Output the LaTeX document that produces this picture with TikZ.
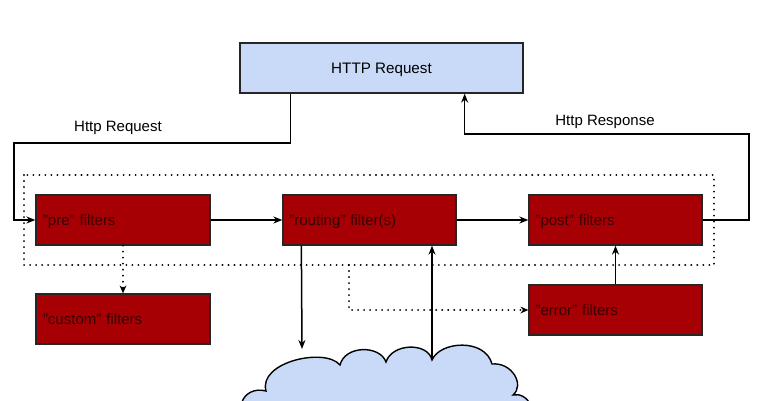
\documentclass[tikz,border=0pt]{standalone}
\usepackage{fontspec}
\setmainfont{Liberation Sans}
\usetikzlibrary{arrows.meta,calc}
\definecolor{boxred}{HTML}{A60004}
\definecolor{boxblue}{HTML}{C9DAF8}
\definecolor{redtext}{HTML}{380000}
\tikzset{
  redbox/.style={draw=black!85, line width=1.3pt, fill=boxred, minimum width=174pt, minimum height=50pt,
    text width=160pt, align=left, inner sep=0pt, text height=10.8pt, text depth=0pt, text=redtext, font=\fontsize{15}{17}\selectfont},
  bluebox/.style={draw=black!85, line width=1.3pt, fill=boxblue, minimum width=283pt, minimum height=50pt,
    inner sep=0pt, text height=10.9pt, text depth=0pt, font=\fontsize{15.2}{17}\selectfont},
  arr/.style={draw=black, line width=1.5pt, -{Stealth[length=9pt,width=7pt]}},
  dotarr/.style={draw=black, line width=2.1pt, dash pattern=on 0.01pt off 6pt, line cap=round, -{Stealth[length=8pt,width=7pt,line width=0pt]}},
  dotline/.style={draw=black, line width=2.1pt, dash pattern=on 0.01pt off 6pt, line cap=round},
  lbl/.style={font=\fontsize{15}{17}\selectfont, inner sep=0pt, text height=10.8pt, text depth=0pt},
}
\begin{document}
\begin{tikzpicture}[x=1pt,y=-1pt]
\useasboundingbox (0,0) rectangle (766,400);
\clip (0,0) rectangle (766,400);
% cloud
\path[fill=boxblue, draw=black, line width=1.4pt]
  (242,402) .. controls (245,393) and (255,388) .. (266,391)
  .. controls (258,362) and (325,347) .. (340,365)
  .. controls (345,345) and (380,345) .. (386,362)
  .. controls (392,343) and (428,342) .. (432,360) coordinate (cE)
  .. controls (440,341) and (485,338) .. (492,364)
  .. controls (512,362) and (525,385) .. (513,395)
  .. controls (520,393) and (528,398) .. (531,406)
  -- (531,420) -- (240,420) -- cycle;
\node[bluebox] (http) at (381.5,68) {HTTP Request};
\node[redbox] (pre) at (123,220) {"pre" filters};
\node[redbox, minimum width=173pt] (routing) at (369.5,220) {"routing" filter(s)};
\node[redbox, minimum width=173pt] (post) at (615.5,220) {"post" filters};
\node[redbox] (custom) at (123,319) {"custom" filters};
\node[redbox, minimum width=173pt] (error) at (615.5,310) {"error" filters};
% dotted frame
\coordinate (fTL) at (24,175);
\coordinate (fBR) at (714,265);
\draw[dotline] (fTL) rectangle (fBR);
% request path
\coordinate (reqL) at (14,143);
\draw[arr] ([xshift=51pt]http.south west) |- (reqL) |- (pre.west);
\node[lbl] (reqlbl) at (118,126.5) {Http Request};
% response path
\coordinate (respR) at (749,134);
\draw[arr] (post.east) -| (respR) -| ([xshift=-59pt]http.south east);
\node[lbl] (resplbl) at (605,120.5) {Http Response};
% chain
\draw[arr] (pre.east) -- (routing.west);
\draw[arr] (routing.east) -- (post.west);
% custom
\draw[dotarr] (pre.south) -- (custom.north);
% routing <-> cloud
\coordinate (cdown) at (302,349);
\draw[arr] ([xshift=19pt]routing.south west) -- (cdown);
\draw[arr] (cE) -- (routing.south -| cE);
% error path
\coordinate (dstart) at (349,265);
\draw[dotarr] (dstart) |- (error.west);
\draw[arr] (error.north) -- (post.south);
\end{tikzpicture}
\end{document}
